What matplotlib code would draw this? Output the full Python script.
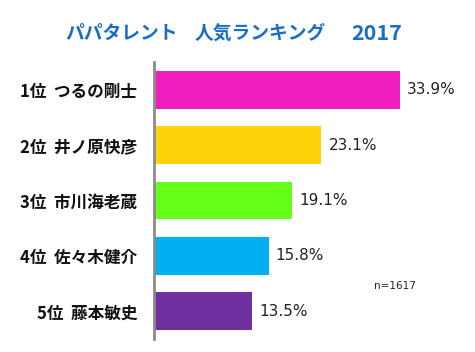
import matplotlib
matplotlib.use("Agg")
import matplotlib.pyplot as plt

plt.rcParams['font.family'] = ['Noto Sans CJK JP', 'DejaVu Sans']

title_parts = ["パパタレント", "人気ランキング", "2017"]
labels = ["1位  つるの剛士", "2位  井ノ原快彦", "3位  市川海老蔵", "4位  佐々木健介", "5位  藤本敏史"]
values = [33.9, 23.1, 19.1, 15.8, 13.5]
colors = ["#F01EBE", "#FFD20A", "#66FF19", "#00B0F0", "#7030A0"]
note = "n=1617"

W, H = 475, 352
fig = plt.figure(figsize=(W/100, H/100), dpi=100)
ax_left, ax_right = 154, 444
ax_top, ax_bot = 62, 339
ax = fig.add_axes([ax_left/W, 1-ax_bot/H, (ax_right-ax_left)/W, (ax_bot-ax_top)/H])

ypos = list(range(len(values)))
ax.barh(ypos, values, height=0.68, color=colors)
ax.set_xlim(0, 40)
ax.set_ylim(len(values)-0.5, -0.5)
for s in ['top', 'right', 'bottom']:
    ax.spines[s].set_visible(False)
ax.spines['left'].set_color('#8c8c8c')
ax.spines['left'].set_linewidth(2)
ax.set_xticks([])
ax.set_yticks(ypos)
ax.set_yticklabels(labels, fontsize=12, fontweight='bold', color='#111111')
ax.tick_params(axis='y', length=0, pad=12)

for y, v in zip(ypos, values):
    ax.text(v + 1.0, y, f"{v:.1f}%", va='center', ha='left', fontsize=11,
            family=['DejaVu Sans'], color='#222222')

fig.text(395/W, 1-286/H, note, ha='center', va='center', fontsize=7.5, family=['DejaVu Sans'], color='#222222')
title_x = [122, 260, 377]
title_fs = [13.5, 13.5, 15.5]
for tx, fs, part in zip(title_x, title_fs, title_parts):
    fig.text(tx/W, 1-33/H, part, ha='center', va='center', fontsize=fs, fontweight='bold', color='#1B6EC2')

fig.savefig("out.png", dpi=100)
